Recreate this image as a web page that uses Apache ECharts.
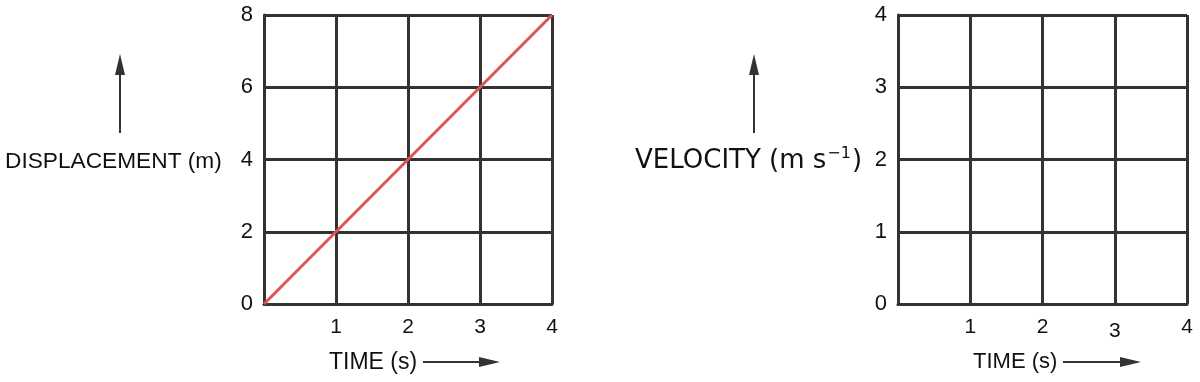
<!DOCTYPE html>
<html><head><meta charset="utf-8">
<script src="https://cdn.jsdelivr.net/npm/echarts@6/dist/echarts.min.js"></script>
<style>html,body{margin:0;padding:0;background:#fff}#c{width:1200px;height:382px}</style>
</head><body><div id="c"></div>
<script>
const timeValues = [0, 1, 2, 3, 4];
const displacementValues = [0, 2, 4, 6, 8];
const dispTicks = [0, 2, 4, 6, 8];
const velTicks = [0, 1, 2, 3, 4];
const timeTicks = ['', '1', '2', '3', '4'];
const leftYTitle = 'DISPLACEMENT (m)';
const xTitle = 'TIME (s)';

const chart = echarts.init(document.getElementById('c'));
const lineC = '#333333';
const ax = (gi) => ({
  axisLine: {show: true, lineStyle: {color: lineC, width: 3}},
  axisTick: {show: false},
  splitLine: {show: true, lineStyle: {color: lineC, width: 3}},
});
const arrow = (x1, y1, x2, y2) => ({
  type: 'line', shape: {x1, y1, x2, y2}, style: {stroke: '#333', lineWidth: 2}
});
const headUp = (x, y) => ({type: 'polygon', shape: {points: [[x, y], [x - 5, y + 21], [x + 5, y + 21]]}, style: {fill: '#333'}});
const headRight = (x, y) => ({type: 'polygon', shape: {points: [[x, y], [x - 21, y - 5], [x - 21, y + 5]]}, style: {fill: '#333'}});

chart.setOption({
  animation: false,
  grid: [
    {left: 264, right: 648, top: 15, bottom: 78},
    {left: 898, right: 13, top: 15, bottom: 78}
  ],
  xAxis: [0, 1].map(i => Object.assign(ax(i), {
    type: 'value', gridIndex: i, min: 0, max: 4, interval: 1,
    axisLabel: {
      margin: 13, fontSize: 21, color: '#111', fontFamily: 'Liberation Sans',
      formatter: v => {
        const t = timeTicks[timeValues.indexOf(v)] || '';
        return (i === 1 && t === '3') ? '{low|' + t + '}' : t;
      },
      rich: {low: {fontSize: 21, color: '#111', fontFamily: 'Liberation Sans', padding: [4, 0, 0, 0]}}
    }
  })),
  yAxis: [
    Object.assign(ax(0), {type: 'value', gridIndex: 0, min: dispTicks[0], max: dispTicks[dispTicks.length - 1], interval: 2,
      axisLabel: {margin: 11, fontSize: 22, color: '#111', fontFamily: 'Liberation Sans'}}),
    Object.assign(ax(1), {type: 'value', gridIndex: 1, min: velTicks[0], max: velTicks[velTicks.length - 1], interval: 1,
      axisLabel: {margin: 11, fontSize: 22, color: '#111', fontFamily: 'Liberation Sans'}})
  ],
  series: [{
    type: 'line', xAxisIndex: 0, yAxisIndex: 0,
    data: timeValues.map((t, k) => [t, displacementValues[k]]),
    showSymbol: false, lineStyle: {color: '#e05550', width: 3}, z: 5
  }],
  graphic: [
    {type: 'text', left: 5, top: 150, style: {text: leftYTitle, fontSize: 22.7, fontFamily: 'Liberation Sans', fill: '#111'}},
    arrow(120, 133, 120, 70), headUp(120, 54),
    {type: 'text', left: 635, top: 146, style: {
      text: '{n|VELOCITY (m s}{s|−1}{n|)}', fill: '#111',
      rich: {n: {fontSize: 26, fontFamily: 'DejaVu Sans', fill: '#111', verticalAlign: 'bottom'},
             s: {fontSize: 16, fontFamily: 'DejaVu Sans', fill: '#111', verticalAlign: 'top', padding: [0, 1, 12, 1]}}
    }},
    arrow(754, 133, 754, 70), headUp(754, 54),
    {type: 'text', left: 329, top: 351, style: {text: xTitle, fontSize: 23, fontFamily: 'Liberation Sans', fill: '#111'}},
    arrow(423, 362, 485, 362), headRight(500, 362),
    {type: 'text', left: 973, top: 351, style: {text: xTitle, fontSize: 22, fontFamily: 'Liberation Sans', fill: '#111'}},
    arrow(1063, 362, 1125, 362), headRight(1141, 362)
  ]
});
</script></body></html>
